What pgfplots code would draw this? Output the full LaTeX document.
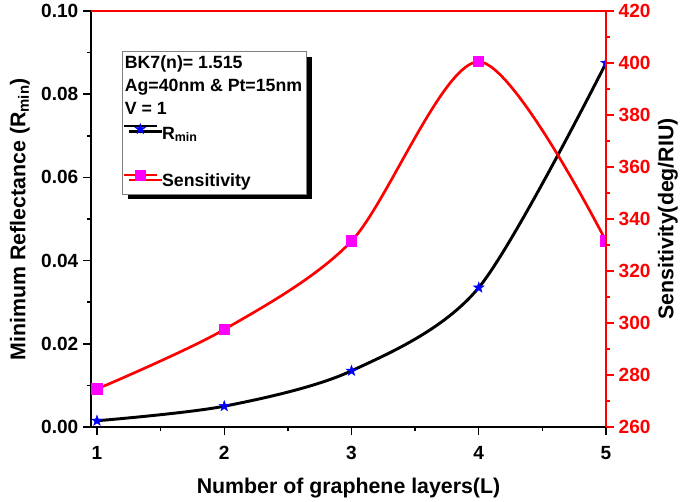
\documentclass[border=0pt]{standalone}
\usepackage{pgfplots}
\pgfplotsset{compat=1.18}
\usepackage{fontspec}
\setmainfont{Liberation Sans}
\usetikzlibrary{shadows}
\definecolor{mymag}{RGB}{255,0,255}
\pgfdeclareplotmark{fstar}{%
  \pgfpathmoveto{\pgfpointpolar{90}{\pgfplotmarksize}}%
  \pgfpathlineto{\pgfpointpolar{126}{0.40*\pgfplotmarksize}}%
  \pgfpathlineto{\pgfpointpolar{162}{\pgfplotmarksize}}%
  \pgfpathlineto{\pgfpointpolar{198}{0.40*\pgfplotmarksize}}%
  \pgfpathlineto{\pgfpointpolar{234}{\pgfplotmarksize}}%
  \pgfpathlineto{\pgfpointpolar{270}{0.40*\pgfplotmarksize}}%
  \pgfpathlineto{\pgfpointpolar{306}{\pgfplotmarksize}}%
  \pgfpathlineto{\pgfpointpolar{342}{0.40*\pgfplotmarksize}}%
  \pgfpathlineto{\pgfpointpolar{18}{\pgfplotmarksize}}%
  \pgfpathlineto{\pgfpointpolar{54}{0.40*\pgfplotmarksize}}%
  \pgfpathclose
  \pgfusepathqfillstroke}
\pgfplotsset{
  common/.style={
    scale only axis, width=386.25pt, height=312pt,
    xmin=0.953, xmax=5,
    tick align=outside, major tick length=6pt, minor tick length=3pt,
    axis line style={line width=1.1pt,-},
    every tick/.style={line width=1.1pt},
    tick label style={font=\fontsize{14.3}{16}\selectfont\bfseries},
    /pgf/number format/assume math mode=true,
    label style={font=\fontsize{16}{18}\selectfont\bfseries},
    clip marker paths=true,
    axis on top,
  }
}
\begin{document}
\begin{tikzpicture}
\begin{axis}[common,
  axis x line*=bottom, axis y line*=left,
  ymin=0, ymax=0.1,
  ytick={0,0.02,0.04,0.06,0.08,0.1},
  yticklabel style={/pgf/number format/.cd, fixed, fixed zerofill, precision=2},
  xticklabel style={yshift=-5pt},
  scaled y ticks=false,
  xtick={1,2,3,4,5}, minor x tick num=1, minor y tick num=1,
  xlabel={Number of graphene layers(L)},
  xlabel style={at={(axis description cs:0.5,-0.146)}, anchor=center},
  ylabel={Minimum Reflectance (R\textsubscript{min})},
  ylabel style={at={(axis description cs:-0.1379,0.5)}, anchor=center},
  legend cell align=left,
  legend image code/.code={%
    \draw[mark=none, line width=1.8pt] (0pt,6.5pt) -- (25pt,6.5pt);
    \path plot coordinates {(12.5pt,4pt)};},
  legend style={at={(axis description cs:0.0602,0.904)}, anchor=north west,
    draw=gray, line width=0.6pt, fill=white,
    drop shadow={shadow xshift=4pt, shadow yshift=-4pt, fill=black, opacity=1},
    font=\fontsize{13.3}{15}\selectfont\bfseries,
    inner xsep=0pt, inner ysep=2.5pt, row sep=3.2pt, column sep=0pt,
    nodes={inner xsep=3pt, inner ysep=0pt, text height=10.5pt, text depth=3.5pt}},
]
\addlegendimage{empty legend}\addlegendentry{\hspace*{-28pt}BK7(n)= 1.515}
\addlegendimage{empty legend}\addlegendentry{\hspace*{-28pt}Ag=40nm \& Pt=15nm}
\addlegendimage{empty legend}\addlegendentry{\hspace*{-28pt}V = 1}
\addplot[black, line width=2.2pt, smooth, mark=fstar, mark size=4.2pt,
  mark options={solid, draw=blue, fill=blue, line width=0.3pt}]
  coordinates {(1,0.0015) (2,0.0050) (3,0.0135) (4,0.0335) (5,0.0875)};
\addlegendentry{R\textsubscript{min}}
\addlegendimage{empty legend}\addlegendentry{}
\addlegendimage{red, line width=1.6pt, mark=square*, mark size=3.3pt, mark options={solid, draw=mymag, fill=mymag},
  legend image code/.code={%
    \draw[mark=none] (0pt,5pt) -- (25pt,5pt);
    \path plot coordinates {(12.5pt,4.5pt)};}}
\addlegendentry{Sensitivity}
\end{axis}
\begin{axis}[common,
  axis y line*=right, axis x line*=top,
  xtick=\empty,
  ymin=260, ymax=420,
  ytick={260,280,300,320,340,360,380,400,420}, minor y tick num=1,
  y axis line style={red}, x axis line style={red},
  ytick style={red}, yticklabel style={red},
  ylabel={Sensitivity(deg/RIU)},
  ylabel style={at={(axis description cs:1.1204,0.5)}, anchor=center},
]
\addplot[red, line width=2pt, smooth, mark=square*, mark size=3.3pt,
  mark options={solid, draw=mymag, fill=mymag}]
  coordinates {(1,274.6) (2,297.5) (3,331.5) (4,400.5) (5,331.5)};
\end{axis}
\pgfresetboundingbox
\path (-68.25pt,-55.5pt) rectangle (445.5pt,320.25pt);
\end{tikzpicture}
\end{document}
